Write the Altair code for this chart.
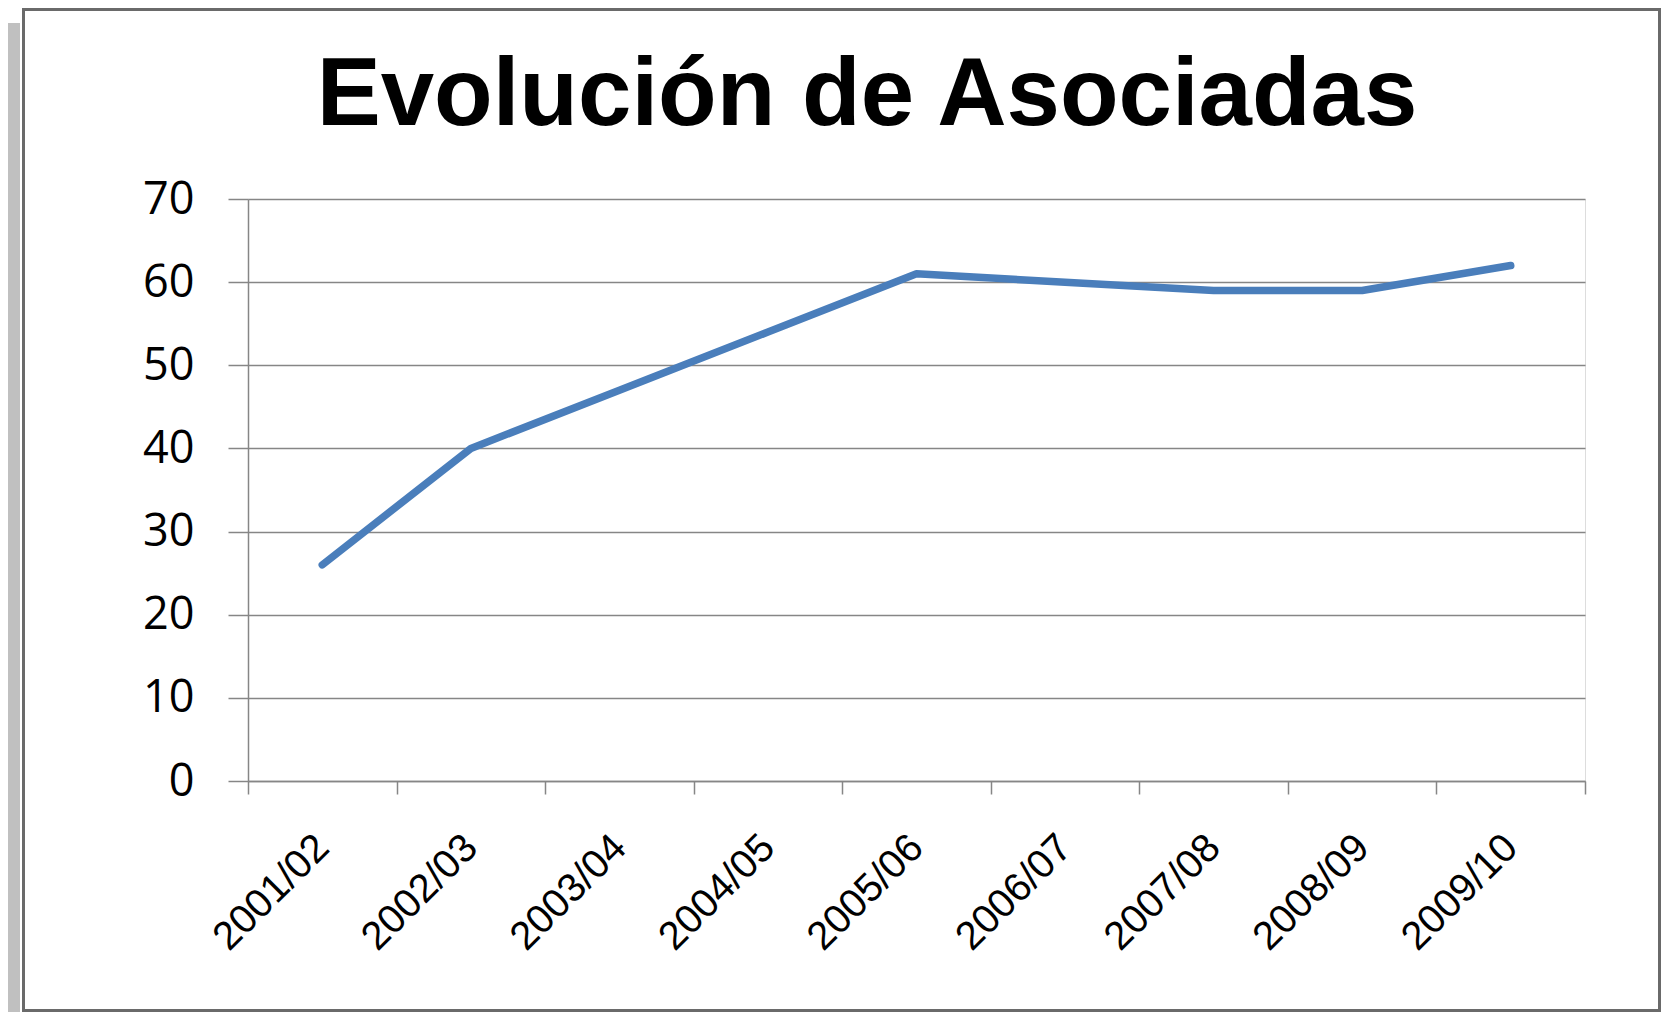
import altair as alt
import pandas as pd

# ---- data ----
categories = ["2001/02", "2002/03", "2003/04", "2004/05", "2005/06",
              "2006/07", "2007/08", "2008/09", "2009/10"]
values = [26, 40, 47, 54, 61, 60, 59, 59, 62]
y_ticks = [0, 10, 20, 30, 40, 50, 60, 70]
title_text = "Evolución de Asociadas"

df = pd.DataFrame({"temporada": categories, "asociadas": values})

W, H = 1337, 582          # plot area
PL, PT = 240, 191         # padding left / top
CW, CH = 1653, 1004       # whole canvas
PR, PB = CW - PL - W, CH - PT - H

GRID = "#868686"

x_enc = alt.X(
    "temporada:N", sort=categories, bandPosition=0.5,
    scale=alt.Scale(type="band", paddingInner=0, paddingOuter=0),
    axis=alt.Axis(title=None, labelAngle=-45, labelAlign="right", labelBaseline="middle",
                  labelFont="Liberation Sans", labelFontSize=40, labelColor="#000000",
                  labelPadding=47, tickSize=13, tickBand="extent", tickColor=GRID,
                  tickWidth=1.5, domainColor=GRID, domainWidth=1.5, grid=False,
                  labelOverlap=False),
)
y_enc = alt.Y(
    "asociadas:Q",
    scale=alt.Scale(domain=[0, 70], nice=False),
    axis=alt.Axis(title=None, values=y_ticks, grid=True, gridColor=GRID, gridWidth=1.5,
                  tickSize=20, tickColor=GRID, tickWidth=1.5, domainColor=GRID,
                  domainWidth=1.5, labelFont="Open Sans", labelFontSize=45,
                  labelColor="#000000", labelPadding=34),
)

line = alt.Chart(df).mark_line(
    color="#4a7ebb", strokeWidth=7.5, strokeCap="round", strokeJoin="round"
).encode(x=x_enc, y=y_enc)

deco = pd.DataFrame({"k": [0]})
shadow = alt.Chart(deco).mark_rect(fill="#c0c0c0").encode(
    x=alt.value(-PL), x2=alt.value(-PL + 12),
    y=alt.value(-PT + 15), y2=alt.value(H + PB),
)
border = alt.Chart(deco).mark_rect(fill="white", fillOpacity=0, stroke="#6a6a6a",
                                   strokeWidth=3).encode(
    x=alt.value(-PL + 15.5), x2=alt.value(W + PR - 1.5),
    y=alt.value(-PT + 1.5), y2=alt.value(H + PB - 1.5),
)
title = alt.Chart(pd.DataFrame({"t": [title_text]})).mark_text(
    font="Liberation Sans", fontSize=96, fontWeight="bold", align="center",
    baseline="alphabetic", color="#000000"
).encode(text="t:N", x=alt.value(619), y=alt.value(-74))

chart = alt.layer(shadow, border, title, line).properties(
    width=W, height=H,
    autosize=alt.AutoSizeParams(type="none"),
    padding={"left": PL, "top": PT, "right": PR, "bottom": PB},
).configure_view(stroke=None).configure(background="white")

chart.save("out.html", embed_options={"renderer": "svg", "actions": False})
